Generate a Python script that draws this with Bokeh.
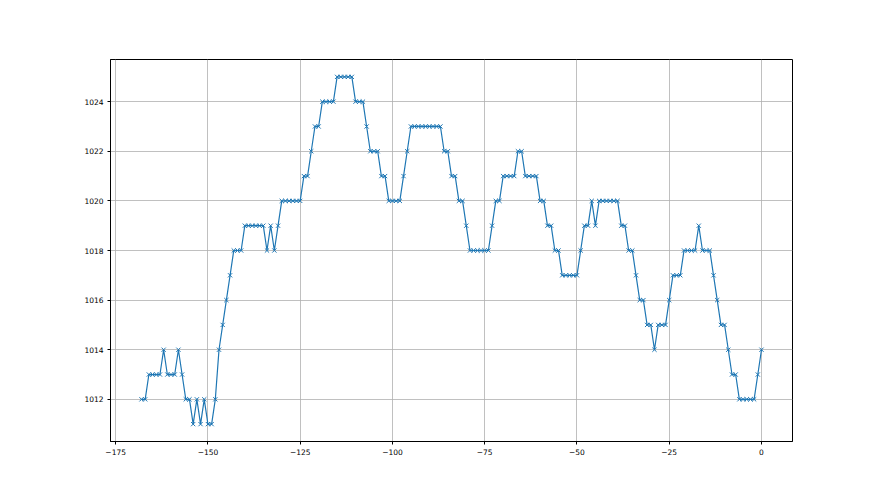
from bokeh.plotting import figure
from bokeh.models import Range1d, FixedTicker
from bokeh.embed import file_html
from bokeh.resources import INLINE

# time offsets (x) and pressure readings (y)
hours = list(range(-168, 1))
pressure = [
    1012, 1012, 1013, 1013, 1013, 1013, 1014, 1013, 1013, 1013,
    1014, 1013, 1012, 1012, 1011, 1012, 1011, 1012, 1011, 1011,
    1012, 1014, 1015, 1016, 1017, 1018, 1018, 1018, 1019, 1019,
    1019, 1019, 1019, 1019, 1018, 1019, 1018, 1019, 1020, 1020,
    1020, 1020, 1020, 1020, 1021, 1021, 1022, 1023, 1023, 1024,
    1024, 1024, 1024, 1025, 1025, 1025, 1025, 1025, 1024, 1024,
    1024, 1023, 1022, 1022, 1022, 1021, 1021, 1020, 1020, 1020,
    1020, 1021, 1022, 1023, 1023, 1023, 1023, 1023, 1023, 1023,
    1023, 1023, 1022, 1022, 1021, 1021, 1020, 1020, 1019, 1018,
    1018, 1018, 1018, 1018, 1018, 1019, 1020, 1020, 1021, 1021,
    1021, 1021, 1022, 1022, 1021, 1021, 1021, 1021, 1020, 1020,
    1019, 1019, 1018, 1018, 1017, 1017, 1017, 1017, 1017, 1018,
    1019, 1019, 1020, 1019, 1020, 1020, 1020, 1020, 1020, 1020,
    1019, 1019, 1018, 1018, 1017, 1016, 1016, 1015, 1015, 1014,
    1015, 1015, 1015, 1016, 1017, 1017, 1017, 1018, 1018, 1018,
    1018, 1019, 1018, 1018, 1018, 1017, 1016, 1015, 1015, 1014,
    1013, 1013, 1012, 1012, 1012, 1012, 1012, 1013, 1014,
]
x_ticks = [-175, -150, -125, -100, -75, -50, -25, 0]
y_ticks = [1012, 1014, 1016, 1018, 1020, 1022, 1024]

xpad = (max(hours) - min(hours)) * 0.05
ypad = (max(pressure) - min(pressure)) * 0.05

p = figure(
    width=862, height=477,
    frame_width=682, frame_height=382,
    min_border_left=110, min_border_top=59,
    min_border_right=20, min_border_bottom=20,
    output_backend="svg", toolbar_location=None,
    x_range=Range1d(min(hours) - xpad, max(hours) + xpad),
    y_range=Range1d(min(pressure) - ypad, max(pressure) + ypad),
)
p.background_fill_color = "white"
p.border_fill_color = "white"
p.outline_line_color = "black"
p.outline_line_width = 1

p.xaxis.ticker = FixedTicker(ticks=x_ticks)
p.yaxis.ticker = FixedTicker(ticks=y_ticks)
p.xaxis.major_label_overrides = {t: str(t).replace("-", "\u2212") for t in x_ticks}
p.yaxis.major_label_overrides = {t: str(t) for t in y_ticks}

for ax in (p.xaxis, p.yaxis):
    ax.minor_tick_line_color = None
    ax.major_tick_out = 3
    ax.major_tick_in = 0
    ax.axis_line_color = "black"
    ax.major_tick_line_color = "black"
    ax.major_label_text_font = "DejaVu Sans"
    ax.major_label_text_font_size = "7.5px"
    ax.major_label_text_color = "black"
    ax.major_label_standoff = 4

p.grid.grid_line_color = "#b0b0b0"
p.grid.grid_line_width = 0.8

p.line(hours, pressure, line_color="#1f77b4", line_width=1.2)
p.scatter(hours, pressure, marker="x", size=6, line_color="#1f77b4", line_width=1)

open("out.html", "w").write(file_html(p, INLINE))
